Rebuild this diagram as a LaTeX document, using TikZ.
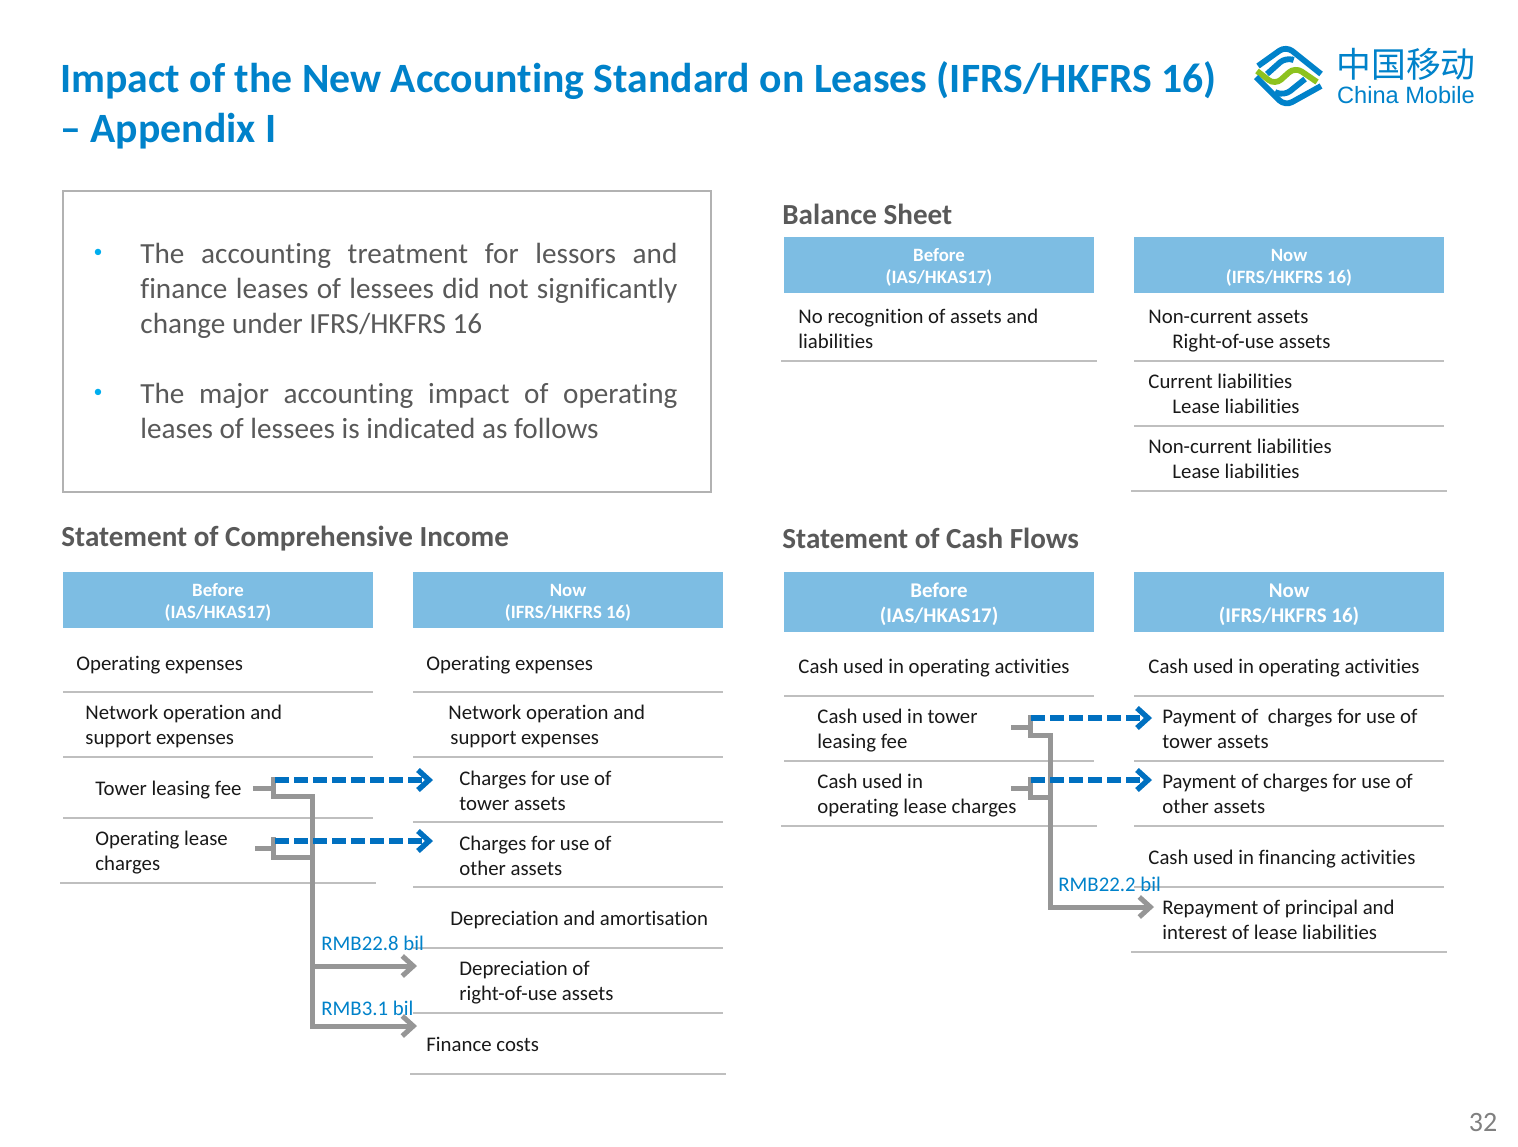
\documentclass[tikz,border=0pt]{standalone}
\usepackage{fontspec}
\setmainfont[Ligatures=NoCommon]{Carlito}
\newfontfamily\cjk{Noto Sans CJK SC}
\newfontfamily\logofont{Liberation Sans}
\usetikzlibrary{arrows.meta}
\definecolor{cmblue}{HTML}{0082CA}
\definecolor{cmgreen}{HTML}{8DC21F}
\definecolor{headblue}{HTML}{7DBDE3}
\definecolor{darktext}{HTML}{595959}
\definecolor{rulegrey}{HTML}{BFBFBF}
\definecolor{linkgrey}{HTML}{969696}
\definecolor{linkblue}{HTML}{0070C0}
\definecolor{dotcyan}{HTML}{00AEEF}
\tikzset{
	rowtext/.style={anchor=west, inner sep=0pt, align=left, text=black!90, font=\fontsize{10.4}{12.5}\selectfont},
	headbox/.style={fill=headblue, text=white, align=center, inner sep=0pt, minimum width=155pt, minimum height=28pt, text height=19.8pt, font=\fontsize{9.4}{11}\selectfont\bfseries},
	headboxbig/.style={headbox, minimum height=30pt, text height=22.5pt, font=\fontsize{10.45}{12.5}\selectfont\bfseries},
	sectiontitle/.style={anchor=west, inner sep=0pt, text=darktext, font=\fontsize{14.55}{16}\selectfont\bfseries},
	bullettext/.style={anchor=north west, inner sep=0pt, text=darktext, text width=268.5pt, align=justify, font=\fontsize{14.6}{17.5}\selectfont, execute at begin node={\hyphenpenalty 10000 }},
	bulletdot/.style={inner sep=0pt, text=dotcyan, font=\fontsize{9}{10}\selectfont},
	amountlabel/.style={anchor=west, inner sep=0pt, text=cmblue, font=\fontsize{10.4}{12}\selectfont},
	rowrule/.style={draw=rulegrey, line width=1pt},
	movelink/.style={draw=linkblue, line width=2.7pt, dash pattern=on 7pt off 2.5pt, -{Straight Barb[length=5.5pt,width=10pt,line width=2.7pt]}},
	greylink/.style={draw=linkgrey, line width=2.5pt},
	greyarrow/.style={greylink, -{Straight Barb[length=5.5pt,width=10pt,line width=2.5pt]}},
	logoband/.style={draw=cmblue, line width=2.9pt, rounded corners=4pt}
}
\begin{document}
\begin{tikzpicture}[x=0.5pt,y=-0.5pt]
	\useasboundingbox [fill=white] ( 0, 0 ) rectangle ( 1518, 1146 );
	% title and logo
	\node [anchor=north west, inner sep=0pt, align=left, text=cmblue, font=\fontsize{20.85}{25}\selectfont\bfseries] (pagetitle) at ( 60, 61 ) {Impact of the New Accounting Standard on Leases (IFRS/HKFRS 16)\\-- Appendix I};
	\draw [logoband] ( 1258, 66 ) -- ( 1286, 46 ) -- ( 1321, 74 );
	\draw [logoband] ( 1267, 74 ) -- ( 1286, 57 ) -- ( 1291, 59 );
	\draw [logoband, draw=cmgreen] ( 1257, 71 ) -- ( 1275, 85 ) -- ( 1295, 67 ) -- ( 1317, 82 );
	\draw [logoband] ( 1256, 77 ) -- ( 1285, 106 ) -- ( 1321, 86 );
	\draw [logoband] ( 1275, 92 ) -- ( 1284, 96 ) -- ( 1305, 79 );
	\node [inner sep=0pt, text=cmblue, font=\fontsize{17.4}{17}\cjk] (logocn) at ( 1406, 64 ) {中国移动};
	\node [inner sep=0pt, text=cmblue, font=\fontsize{11.8}{12}\logofont] (logoen) at ( 1406, 95 ) {China Mobile};
	% summary box
	\node [draw=black!30, line width=1.2pt, minimum width=324pt, minimum height=150.5pt, inner sep=0pt] (summarybox) at ( 387, 341.5 ) {};
	\node [bulletdot] (dotone) at ( 98, 253 ) {•};
	\node [bullettext] (summaryone) at ( 140, 243 ) {The accounting treatment for lessors and finance leases of lessees did not significantly change under IFRS/HKFRS 16};
	\node [bulletdot] (dottwo) at ( 98, 393 ) {•};
	\node [bullettext] (summarytwo) at ( 140, 383 ) {The major accounting impact of operating leases of lessees is indicated as follows};
	% balance sheet
	\node [sectiontitle] (bstitle) at ( 782, 214 ) {Balance Sheet};
	\node [headbox] (bsbefore) at ( 939, 265 ) {Before\\(IAS/HKAS17)};
	\node [headbox] (bsnow) at ( 1289, 265 ) {Now\\(IFRS/HKFRS 16)};
	\node [rowtext] (bsnone) at ( 798, 329 ) {No recognition of assets and\\liabilities};
	\node [rowtext] (bsassets) at ( 1148, 331 ) {Non-current assets\\\hspace{12pt}Right-of-use assets};
	\node [rowtext] (bscurrent) at ( 1148, 394 ) {Current liabilities\\\hspace{12pt}Lease liabilities};
	\node [rowtext] (bsnoncurrent) at ( 1148, 459 ) {Non-current liabilities\\\hspace{12pt}Lease liabilities};
	\draw [rowrule] ( 781, 361 ) -- ( 1097, 361 );
	\draw [rowrule] ( 1134, 361 ) -- ( 1444, 361 );
	\draw [rowrule] ( 1134, 426 ) -- ( 1444, 426 );
	\draw [rowrule] ( 1131, 491 ) -- ( 1447, 491 );
	% comprehensive income
	\node [sectiontitle] (incometitle) at ( 61, 539 ) {Statement of Comprehensive Income};
	\node [headbox] (incbefore) at ( 218, 600 ) {Before\\(IAS/HKAS17)};
	\node [headbox] (incnow) at ( 568, 600 ) {Now\\(IFRS/HKFRS 16)};
	\node [rowtext] (incopexa) at ( 76, 665 ) {Operating expenses};
	\node [rowtext] (incnetworka) at ( 85, 726 ) {Network operation and\\support expenses};
	\node [rowtext] (towerfee) at ( 95, 790 ) {Tower leasing fee};
	\node [rowtext] (leasecharges) at ( 95, 853 ) {Operating lease\\charges};
	\node [rowtext] (incopexb) at ( 426, 665 ) {Operating expenses};
	\node [rowtext] (incnetworkb) at ( 448, 726 ) {Network operation and\\\hspace{1pt}support expenses};
	\node [rowtext] (towercharges) at ( 459, 791 ) {Charges for use of\\tower assets};
	\node [rowtext] (othercharges) at ( 459, 856 ) {Charges for use of\\other assets};
	\node [rowtext] (depamort) at ( 450, 920 ) {Depreciation and amortisation};
	\node [rowtext] (deprou) at ( 459, 983 ) {Depreciation of\\right-of-use assets};
	\node [rowtext] (financecosts) at ( 426, 1044 ) {Finance costs};
	\draw [rowrule] ( 63, 692 ) -- ( 373, 692 );
	\draw [rowrule] ( 63, 757 ) -- ( 373, 757 );
	\draw [rowrule] ( 63, 818 ) -- ( 373, 818 );
	\draw [rowrule] ( 60, 883 ) -- ( 376, 883 );
	\draw [rowrule] ( 413, 692 ) -- ( 723, 692 );
	\draw [rowrule] ( 413, 757 ) -- ( 723, 757 );
	\draw [rowrule] ( 413, 822 ) -- ( 723, 822 );
	\draw [rowrule] ( 413, 887 ) -- ( 723, 887 );
	\draw [rowrule] ( 413, 948 ) -- ( 723, 948 );
	\draw [rowrule] ( 413, 1013 ) -- ( 723, 1013 );
	\draw [rowrule] ( 410, 1074 ) -- ( 726, 1074 );
	% income connectors
	\coordinate (incforka) at ( 273, 788 );
	\coordinate (incforkb) at ( 273, 848 );
	\coordinate (inctrunktop) at ( 312, 796 );
	\coordinate (incsplitone) at ( 312, 966 );
	\coordinate (incsplittwo) at ( 312, 1026 );
	\draw [greylink, shorten <=5.5pt] (towerfee.east |- incforka) -- (incforka);
	\draw [greylink, shorten <=13.5pt] (leasecharges.east |- incforkb) -- (incforkb);
	\draw [greylink, line cap=rect] ( 273, 779 ) -- (incforka) |- (inctrunktop) -- (incsplittwo);
	\draw [greylink, line cap=rect] ( 273, 839 ) -- (incforkb) |- (inctrunktop |- 0, 857);
	\draw [movelink, shorten >=13pt] ( 275, 780 ) -- ( towercharges.west |- 0, 780 );
	\draw [movelink, shorten >=13pt] ( 275, 841 ) -- ( othercharges.west |- 0, 841 );
	\draw [greyarrow, shorten >=21pt] (incsplitone) -- (incsplitone -| deprou.west);
	\draw [greyarrow, shorten >=4.5pt] (incsplittwo) -- (incsplittwo -| financecosts.west);
	\node [amountlabel] (amountdep) at ( 321, 943 ) {RMB22.8 bil};
	\node [amountlabel] (amountfin) at ( 321, 1008 ) {RMB3.1 bil};
	% cash flows
	\node [sectiontitle] (cashtitle) at ( 782, 538 ) {Statement of Cash Flows};
	\node [headboxbig] (cashbefore) at ( 939, 602 ) {Before\\(IAS/HKAS17)};
	\node [headboxbig] (cashnow) at ( 1289, 602 ) {Now\\(IFRS/HKFRS 16)};
	\node [rowtext] (cashopa) at ( 798, 668 ) {Cash used in operating activities};
	\node [rowtext] (cashtower) at ( 817, 731 ) {Cash used in tower\\leasing fee};
	\node [rowtext] (cashlease) at ( 817, 796 ) {Cash used in\\operating lease charges};
	\node [rowtext] (cashopb) at ( 1148, 668 ) {Cash used in operating activities};
	\node [rowtext] (paytower) at ( 1162, 729 ) {Payment of \ charges for use of\\tower assets};
	\node [rowtext] (payother) at ( 1162, 794 ) {Payment of charges for use of\\other assets};
	\node [rowtext] (cashfin) at ( 1148, 859 ) {Cash used in financing activities};
	\node [rowtext] (repay) at ( 1162, 920 ) {Repayment of principal and\\interest of lease liabilities};
	\draw [rowrule] ( 784, 696 ) -- ( 1094, 696 );
	\draw [rowrule] ( 784, 761 ) -- ( 1094, 761 );
	\draw [rowrule] ( 781, 826 ) -- ( 1097, 826 );
	\draw [rowrule] ( 1134, 696 ) -- ( 1444, 696 );
	\draw [rowrule] ( 1134, 761 ) -- ( 1444, 761 );
	\draw [rowrule] ( 1134, 826 ) -- ( 1444, 826 );
	\draw [rowrule] ( 1134, 887 ) -- ( 1444, 887 );
	\draw [rowrule] ( 1131, 952 ) -- ( 1447, 952 );
	% cash connectors
	\coordinate (cashforka) at ( 1030, 727 );
	\coordinate (cashforkb) at ( 1030, 788 );
	\coordinate (cashtrunktop) at ( 1050, 735 );
	\coordinate (cashsplit) at ( 1050, 907 );
	\draw [greylink, shorten <=16.5pt] (cashtower.east |- cashforka) -- (cashforka);
	\draw [greylink, shorten <=-3pt] (cashlease.east |- cashforkb) -- (cashforkb);
	\draw [greylink, line cap=rect] ( 1030, 717 ) -- (cashforka) |- (cashtrunktop) -- (cashsplit);
	\draw [greylink, line cap=rect] ( 1030, 779 ) -- (cashforkb) |- (cashtrunktop |- 0, 797);
	\draw [movelink, shorten >=5pt] ( 1031, 718 ) -- ( paytower.west |- 0, 718 );
	\draw [movelink, shorten >=5pt] ( 1031, 780 ) -- ( payother.west |- 0, 780 );
	\draw [greyarrow, shorten >=4pt] (cashsplit) -- (cashsplit -| repay.west);
	\node [amountlabel] (amountcash) at ( 1058, 884 ) {RMB22.2 bil};
	% page number
	\node [inner sep=0pt, text=black!50, font=\fontsize{14}{16}\selectfont] (pagenum) at ( 1483, 1122 ) {32};
\end{tikzpicture}
\end{document}
